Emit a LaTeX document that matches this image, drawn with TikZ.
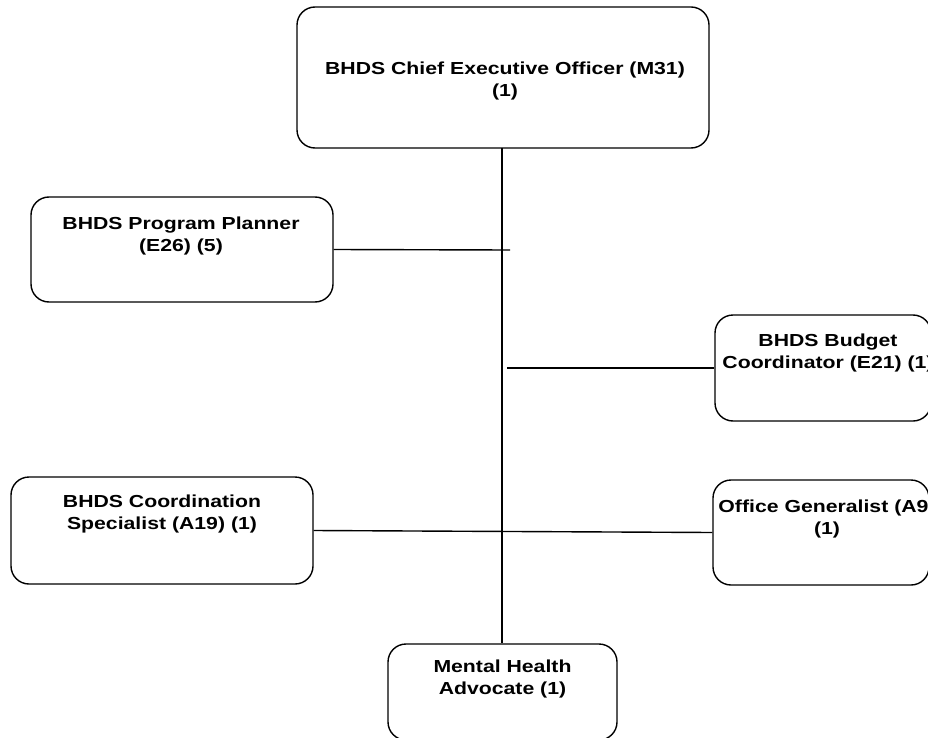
\documentclass[tikz,border=0pt]{standalone}
\usepackage{graphicx}
\usepackage{fontspec}
\setmainfont{Liberation Sans}
\newcommand{\wx}[1]{\scalebox{1.22}[1]{#1}}
\begin{document}
\begin{tikzpicture}[x=1pt,y=-1pt,
  box/.style={draw=black, line width=1.4pt, rounded corners=18pt, fill=white, inner sep=0pt},
  lbl/.style={font=\bfseries\fontsize{17.4}{22}\selectfont, align=center, inner sep=0pt},
  conn/.style={draw=black, line width=1.4pt}]
\useasboundingbox (0,0) rectangle (928,738);
\clip (0,0) rectangle (928,738);
% boxes
\node[box, minimum width=412pt, minimum height=141pt] (ceo) at (503,77.5) {};
\node[box, minimum width=302pt, minimum height=105pt] (pp) at (182,249.5) {};
\node[box, minimum width=216pt, minimum height=106pt] (bc) at (823,368) {};
\node[box, minimum width=302pt, minimum height=107pt] (cs) at (162,530.5) {};
\node[box, minimum width=216pt, minimum height=105pt] (og) at (821,532.5) {};
\node[box, minimum width=229pt, minimum height=96pt] (mha) at (502.5,692) {};
% connectors
\coordinate (ppend) at (510,250);
\coordinate (bcstart) at (507,368);
\draw[conn] (502,148) -- (mha.north -| 502,0);
\draw[conn] (pp.east) -- (ppend);
\draw[conn] (bcstart) -- (bc.west);
\draw[conn] (cs.east) -- (og.west);
% texts
\node[lbl] (tceo) at (505,81) {\wx{BHDS Chief Executive Officer (M31)}\\\wx{(1)}};
\node[lbl] (tpp) at (181,236) {\wx{BHDS Program Planner}\\\wx{(E26) (5)}};
\node[lbl] (tbc) at (828,353) {\wx{BHDS Budget}\\\wx{Coordinator (E21) (1)}};
\node[lbl] (tcs) at (162,514) {\wx{BHDS Coordination}\\\wx{Specialist (A19) (1)}};
\node[lbl] (tog) at (827,519) {\wx{Office Generalist (A9)}\\\wx{(1)}};
\node[lbl] (tmha) at (502.5,679) {\wx{Mental Health}\\\wx{Advocate (1)}};
\end{tikzpicture}
\end{document}
